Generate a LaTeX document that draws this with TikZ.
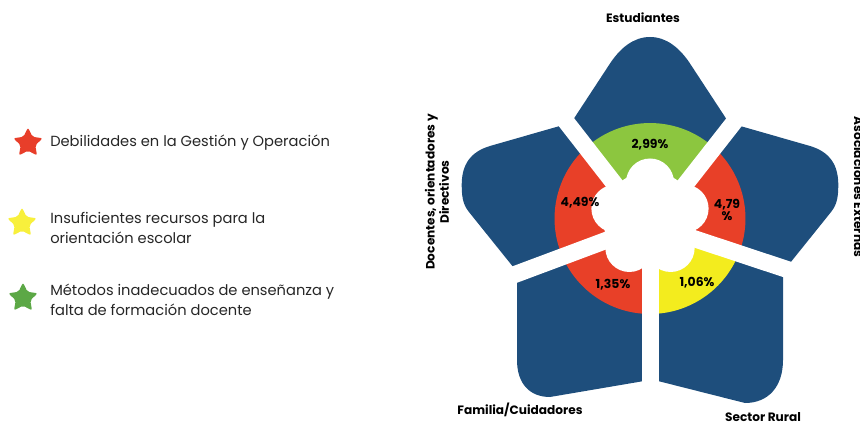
\documentclass[tikz,border=0pt]{standalone}
\usepackage{fontspec}
\setmainfont{Poppins}
\usetikzlibrary{shapes.geometric}
\definecolor{petal}{RGB}{30,78,124}
\definecolor{ringred}{RGB}{232,64,40}
\definecolor{ringgreen}{RGB}{140,198,63}
\definecolor{ringyellow}{RGB}{243,236,30}
\definecolor{starred}{RGB}{232,62,42}
\definecolor{staryellow}{RGB}{248,240,60}
\definecolor{stargreen}{RGB}{92,168,70}
\begin{document}
\begin{tikzpicture}[x=0.75pt,y=0.75pt,
  gapline/.style={draw=white,line width=12.75pt},
  pct/.style={font=\bfseries\fontsize{9.3}{9.5}\selectfont,text=black,inner sep=0pt,align=center},
  lbl/.style={font=\bfseries\fontsize{9.1}{9}\selectfont,text=black,inner sep=0pt,align=center},
  legtext/.style={font=\fontsize{11}{15}\selectfont,text=black!85,anchor=west,align=left,inner sep=0pt},
  legstar/.style={star,star points=5,star point ratio=2.0,minimum size=23pt,inner sep=0pt,rounded corners=1.5pt}]
\useasboundingbox (0,0) rectangle (860,425);
% petals
\fill[petal] (650,207) -- (571,302) -- (611,363) .. controls (620.5,376.7) and (633.3,388) .. (650,388)
  .. controls (666.7,388) and (679.5,376.7) .. (689,363) -- (729,302) -- cycle;
\fill[petal] (650,207) -- (565,300.5) -- (490,279) .. controls (470,273) and (461.7,260) .. (461.7,240)
  .. controls (461.7,225) and (464,219) .. (470,211.7) -- (518,152) -- cycle;
\fill[petal] (650,207) -- (735,300.5) -- (810,279) .. controls (830,273) and (838.3,260) .. (838.3,240)
  .. controls (838.3,225) and (836,219) .. (830,211.7) -- (782,152) -- cycle;
\fill[petal] (650,207) -- (517,151) -- (517,65) .. controls (517,41) and (530,28) .. (550,28) -- (650,45) -- cycle;
\fill[petal] (650,207) -- (783,158) -- (783,65) .. controls (783,38) and (768,22) .. (745,22) -- (650,46) -- cycle;
% ring
\coordinate (rc) at (650,206.5);
\fill[ringgreen] (rc) -- ++(52:71.6pt) arc[start angle=52,end angle=128,radius=71.6pt] -- cycle;
\fill[ringred] (rc) -- ++(128:71.6pt) arc[start angle=128,end angle=200,radius=71.6pt] -- cycle;
\fill[ringred] (rc) -- ++(200:71.6pt) arc[start angle=200,end angle=270,radius=71.6pt] -- cycle;
\fill[ringyellow] (rc) -- ++(270:71.6pt) arc[start angle=270,end angle=340,radius=71.6pt] -- cycle;
\fill[ringred] (rc) -- ++(-20:71.6pt) arc[start angle=-20,end angle=52,radius=71.6pt] -- cycle;
% gaps
\draw[gapline] (650,195.5) -- (541,335.5);
\draw[gapline] (650,195.5) -- (760.5,336.6);
\draw[gapline] (650,201) -- (460,130);
\draw[gapline] (650,201) -- (840,138);
\draw[gapline] (650,201) -- (650,0);
% white centre
\fill[white] (rc) circle[radius=35.25pt];
\foreach \a in {90,164,16,235,305}
  \fill[white] (rc) ++(\a:27pt) circle[radius=18pt];
% percentages
\node[pct] (p1) at (650,280) {2,99\%};
\node[pct] (p2) at (580,222) {4,49\%};
\node[pct] (p3) at (727,215) {4,79\\\%};
\node[pct] (p4) at (613,140) {1,35\%};
\node[pct] (p5) at (697,142) {1,06\%};
% labels
\node[lbl] (l1) at (643,407) {Estudiantes};
\node[lbl,rotate=90] (l2) at (437,233) {Docentes, orientadores y\\Directivos};
\node[lbl,rotate=-90] (l3) at (859,238) {Asociaciones Externas};
\node[lbl] (l4) at (520,15) {Familia/Cuidadores};
\node[lbl] (l5) at (763,8) {Sector Rural};
% legend
\node[legstar,fill=starred] (s1) at (28,282) {};
\node[legstar,fill=staryellow] (s2) at (22,202) {};
\node[legstar,fill=stargreen] (s3) at (23,127) {};
\node[legtext] (t1) at (50,282) {Debilidades en la Gestión y Operación};
\node[legtext] (t2) at (50,197) {Insuficientes recursos para la\\orientación escolar};
\node[legtext] (t3) at (50,125) {Métodos inadecuados de enseñanza y\\falta de formación docente};
\end{tikzpicture}
\end{document}
